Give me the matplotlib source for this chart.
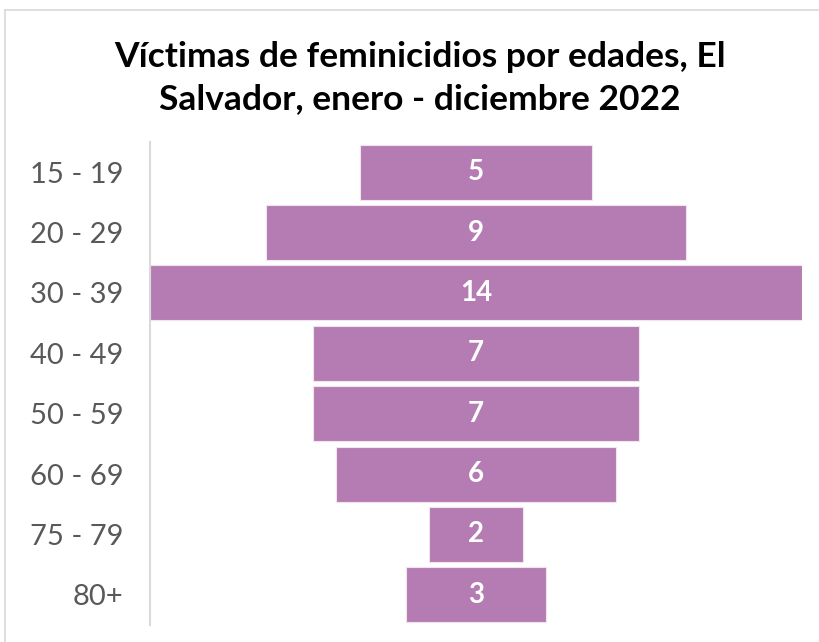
import matplotlib
matplotlib.use("Agg")
import matplotlib.pyplot as plt
from matplotlib.lines import Line2D

categories = ["15 - 19", "20 - 29", "30 - 39", "40 - 49", "50 - 59", "60 - 69", "75 - 79", "80+"]
values = [5, 9, 14, 7, 7, 6, 2, 3]
title = "Víctimas de feminicidios por edades, El\nSalvador, enero - diciembre 2022"

W, H = 819, 642
fig = plt.figure(figsize=(W / 100, H / 100), dpi=100)
fig.patch.set_facecolor("white")

# outer chart frame
fig.add_artist(Line2D([5 / W, 5 / W], [0, 1 - 10 / H], color="#d9d9d9", lw=1.2, transform=fig.transFigure))
fig.add_artist(Line2D([5 / W, 1], [1 - 10 / H, 1 - 10 / H], color="#d9d9d9", lw=1.2, transform=fig.transFigure))

ax = fig.add_axes([150 / W, 1 - 625 / H, (802 - 150) / W, (625 - 142) / H])
maxv = max(values)
ypos = list(range(len(categories)))
lefts = [-v / 2 for v in values]
bars = ax.barh(ypos, values, left=lefts, height=0.91, color="#B47CB3",
               edgecolor="#f0e4ef", linewidth=0.8)
for y, v in zip(ypos, values):
    ax.text(0, y, str(v), ha="center", va="center", color="white",
            fontsize=20, fontweight="bold", family="Lato")

ax.set_xlim(-maxv / 2, maxv / 2)
ax.set_ylim(len(categories) - 0.5, -0.5)
ax.set_yticks(ypos)
ax.set_yticklabels(categories, fontsize=21, color="#595959", family="Lato")
ax.tick_params(axis="y", length=0, pad=19)
ax.set_xticks([])
for s in ["top", "right", "bottom"]:
    ax.spines[s].set_visible(False)
ax.spines["left"].set_color("#d9d9d9")
ax.spines["left"].set_linewidth(1.5)

fig.text(420 / W, 1 - 78 / H, title, ha="center", va="center", fontsize=25.5,
         fontweight="bold", family="Lato", color="black", linespacing=1.38)

fig.savefig("out.png", dpi=100)
